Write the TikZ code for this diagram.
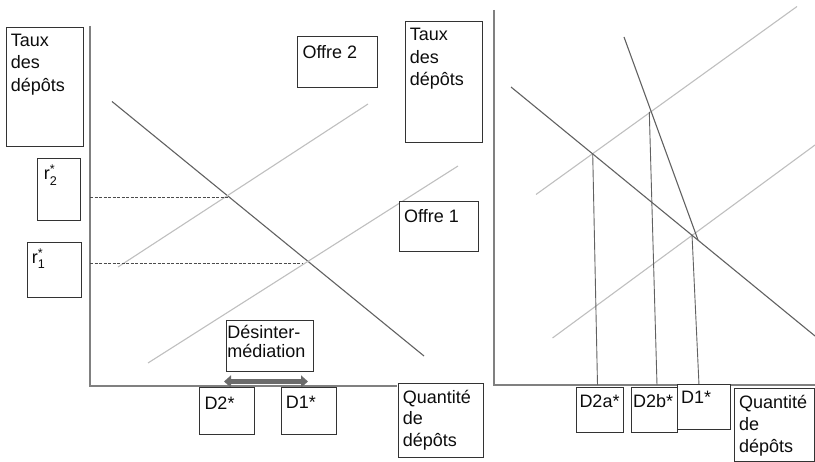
\documentclass[tikz,border=0pt]{standalone}
\usepackage{fontspec}
\setmainfont{Liberation Sans}
\usepackage{amsmath}
\usetikzlibrary{arrows.meta}

\tikzset{
	boite/.style={draw=black!80, fill=white, line width=0.9pt, anchor=north west, inner sep=0pt},
	texte/.style={anchor=north west, align=left, inner xsep=5pt, inner ysep=7pt, text=black!95, font=\fontsize{18}{22.5}\selectfont},
	axe/.style={draw=black!50, line width=1.6pt},
	fonce/.style={draw=black!62, line width=1.1pt},
	clair/.style={draw=black!25, line width=1.1pt},
	tirets/.style={draw=black!70, line width=0.9pt, dash pattern=on 3pt off 1.5pt},
	fleche/.style={draw=black!58, line width=4.5pt, {Triangle[width=12pt,length=7pt]}-{Triangle[width=12pt,length=7pt]}},
}

\begin{document}
\begin{tikzpicture}[x=1pt, y=-1pt]
		\useasboundingbox (0,0) rectangle (815,462);
		% axes
		\draw[axe] (90,26) -- (90,386) -- (397,386);
		\draw[axe] (494,10) -- (494,385) -- (815,385);
		% left panel: demand and the two supplies
		\coordinate (demG1) at (112,101.5);
		\coordinate (demG2) at (424,356);
		\coordinate (off2a) at (118,267);
		\coordinate (off2b) at (368,104);
		\coordinate (off1a) at (148,363);
		\coordinate (off1b) at (458,166);
		\draw[fonce] (demG1) -- (demG2);
		\draw[clair] (off2a) -- (off2b);
		\draw[clair] (off1a) -- (off1b);
		\coordinate (r2ax) at (90,197);
		\coordinate (r2eq) at (228,197);
		\coordinate (r1ax) at (90,263);
		\coordinate (r1eq) at (303,263);
		\draw[tirets] (r2ax) -- (r2eq);
		\draw[tirets] (r1ax) -- (r1eq);
		\coordinate (flA) at (224,381.5);
		\coordinate (flB) at (308,381.5);
		\draw[fleche] (flA) -- (flB);
		% right panel
		\coordinate (demD1) at (511,87);
		\coordinate (demD2) at (815,336);
		\coordinate (raide1) at (624,37);
		\coordinate (raide2) at (698,240);
		\coordinate (offHa) at (536,194.5);
		\coordinate (offHb) at (797,6.5);
		\coordinate (offBa) at (552.5,338);
		\coordinate (offBb) at (815,145);
		\draw[clair] (offHa) -- (offHb);
		\draw[clair] (offBa) -- (offBb);
		\draw[fonce] (demD1) -- (demD2);
		\draw[fonce] (raide1) -- (raide2);
		\coordinate (eqA) at (592.7,153.3);
		\coordinate (eqB) at (649.3,112);
		\coordinate (eqC) at (692,234.5);
		\coordinate (pA) at (597.5,385);
		\coordinate (pB) at (657,385);
		\coordinate (pC) at (699,385);
		\foreach \h/\b in {eqA/pA,eqB/pB,eqC/pC} \draw[fonce, line width=0.9pt] (\h) -- (\b);
		% boxes
		\node[boite, minimum width=77pt, minimum height=119.3pt, label={[texte]north west:Taux\\des\\dépôts}] (tauxG) at (5.7,26.7) {};
		\node[boite, minimum width=43.6pt, minimum height=62.3pt, label={[texte, inner xsep=7pt]north west:r$^{\text{*}}_{\text{2}}$}] (rdeux) at (36.7,157.7) {};
		\node[boite, minimum width=54.3pt, minimum height=55pt, label={[texte]north west:r$^{\text{*}}_{\text{1}}$}] (run) at (26.7,241.7) {};
		\node[boite, minimum width=79.4pt, minimum height=51.3pt, label={[texte, inner ysep=9pt]north west:Offre 2}] (offre2) at (297.3,36) {};
		\node[boite, minimum width=79.3pt, minimum height=50pt, label={[texte, inner ysep=9pt]north west:Offre 1}] (offre1) at (399,200.7) {};
		\node[boite, minimum width=77.6pt, minimum height=120.7pt, label={[texte]north west:Taux\\des\\dépôts}] (tauxD) at (404.7,21) {};
		\node[boite, minimum width=87.6pt, minimum height=51pt, label={[texte, inner xsep=1.5pt, inner ysep=5pt, font=\fontsize{18}{19}\selectfont]north west:Désinter-\\médiation}] (desinter) at (225.7,320) {};
		\node[boite, minimum width=55pt, minimum height=46.7pt, label={[texte, inner ysep=9pt]north west:D2*}] (ddeux) at (199.3,387.3) {};
		\node[boite, minimum width=55.3pt, minimum height=46.7pt, label={[texte, inner ysep=9pt]north west:D1*}] (dun) at (280.7,387.3) {};
		\node[boite, minimum width=85.6pt, minimum height=74.6pt, label={[texte, font=\fontsize{18}{21.7}\selectfont]north west:Quantité\\de\\dépôts}] (quantG) at (397.7,382.7) {};
		\node[boite, minimum width=47pt, minimum height=45pt, label={[texte, inner xsep=3pt]north west:D2a*}] (ddeuxa) at (576.3,387.3) {};
		\node[boite, minimum width=46pt, minimum height=45pt, label={[texte, inner xsep=2pt]north west:D2b*}] (ddeuxb) at (631,387.3) {};
		\node[boite, minimum width=53pt, minimum height=45pt, label={[texte, inner xsep=4pt]north west:D1*}] (dunD) at (677,384.3) {};
		\node[boite, minimum width=80pt, minimum height=72.4pt, label={[texte, font=\fontsize{18}{21.7}\selectfont]north west:Quantité\\de\\dépôts}] (quantD) at (734,388.3) {};
	\end{tikzpicture}
\end{document}
